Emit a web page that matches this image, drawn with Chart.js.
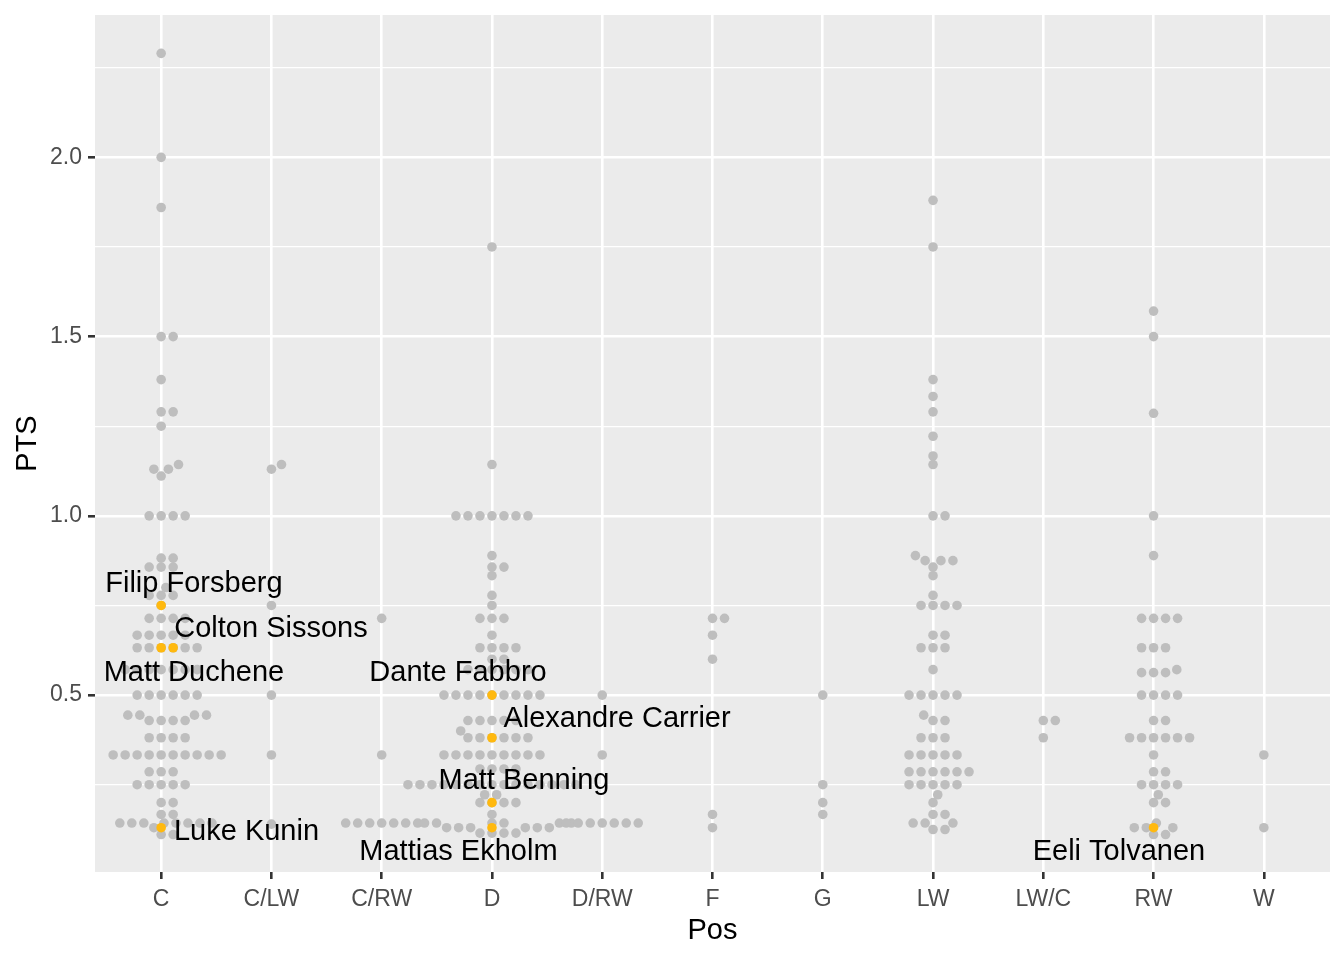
<!DOCTYPE html>
<html>
<head>
<meta charset="utf-8">
<script src="https://cdn.jsdelivr.net/npm/chart.js@4.4.1/dist/chart.umd.min.js"></script>
<style>
  html, body { margin: 0; padding: 0; background: #ffffff; }
</style>
</head>
<body>
<canvas id="ptsChart" width="1344" height="960"></canvas>
<script>
// positions on the x axis
const categories = ['C', 'C/LW', 'C/RW', 'D', 'D/RW', 'F', 'G', 'LW', 'LW/C', 'RW', 'W'];

// points per game, one array per position (every player, highlighted ones included)
const ptsC = [2.29, 2.0, 1.86, 1.5, 1.5, 1.38, 1.29, 1.29, 1.25, 1.143, 1.13, 1.13, 1.111,
  1.0, 1.0, 1.0, 1.0, 0.882, 0.882, 0.857, 0.857, 0.857, 0.8, 0.778, 0.778, 0.778,
  0.75, 0.714, 0.714, 0.714, 0.714, 0.667, 0.667, 0.667, 0.667, 0.667,
  0.632, 0.632, 0.632, 0.632, 0.632, 0.632,
  0.571, 0.571, 0.571, 0.571, 0.571, 0.571, 0.571,
  0.5, 0.5, 0.5, 0.5, 0.5, 0.5, 0.444, 0.444, 0.444, 0.444, 0.429, 0.429, 0.429, 0.429,
  0.381, 0.381, 0.381, 0.381,
  0.333, 0.333, 0.333, 0.333, 0.333, 0.333, 0.333, 0.333, 0.333, 0.333,
  0.286, 0.286, 0.286, 0.25, 0.25, 0.25, 0.25, 0.25, 0.2, 0.2, 0.167, 0.167,
  0.143, 0.143, 0.143, 0.143, 0.143, 0.143, 0.143, 0.143, 0.13, 0.111, 0.111];
const ptsCLW = [1.13, 1.143, 0.75, 0.5, 0.333, 0.14];
const ptsCRW = [0.714, 0.333, 0.143, 0.143, 0.143, 0.143, 0.143, 0.143, 0.143];
const ptsD = [1.75, 1.143, 1.0, 1.0, 1.0, 1.0, 1.0, 1.0, 1.0, 0.889, 0.857, 0.857, 0.833,
  0.778, 0.75, 0.714, 0.714, 0.714, 0.667, 0.632, 0.632, 0.632, 0.632, 0.6, 0.6,
  0.571, 0.571, 0.571, 0.571, 0.571, 0.571,
  0.5, 0.5, 0.5, 0.5, 0.5, 0.5, 0.5, 0.5, 0.5,
  0.429, 0.429, 0.429, 0.429, 0.429, 0.4, 0.381, 0.381, 0.381, 0.381, 0.381, 0.381,
  0.333, 0.333, 0.333, 0.333, 0.333, 0.333, 0.333, 0.333, 0.333,
  0.294, 0.294, 0.294, 0.294,
  0.25, 0.25, 0.25, 0.25, 0.25, 0.25, 0.25, 0.25, 0.25, 0.25, 0.25, 0.25, 0.25, 0.25, 0.25,
  0.222, 0.222, 0.2, 0.2, 0.2, 0.2, 0.167,
  0.143, 0.143, 0.143, 0.143, 0.143, 0.143,
  0.13, 0.13, 0.13, 0.13, 0.13, 0.13, 0.115, 0.115, 0.115, 0.115];
const ptsDRW = [0.5, 0.333, 0.143, 0.143, 0.143, 0.143, 0.143, 0.143, 0.143];
const ptsF = [0.714, 0.714, 0.667, 0.6, 0.167, 0.13];
const ptsG = [0.5, 0.25, 0.2, 0.167];
const ptsLW = [1.88, 1.75, 1.38, 1.333, 1.29, 1.222, 1.167, 1.143, 1.0, 1.0,
  0.889, 0.875, 0.875, 0.875, 0.857, 0.833, 0.778, 0.75, 0.75, 0.75, 0.75,
  0.667, 0.667, 0.632, 0.632, 0.632, 0.571, 0.5, 0.5, 0.5, 0.5, 0.5,
  0.444, 0.429, 0.429, 0.381, 0.381, 0.381, 0.333, 0.333, 0.333, 0.333, 0.333,
  0.286, 0.286, 0.286, 0.286, 0.286, 0.286, 0.25, 0.25, 0.25, 0.25, 0.25,
  0.222, 0.2, 0.167, 0.167, 0.143, 0.143, 0.143, 0.125, 0.125];
const ptsLWC = [0.429, 0.429, 0.381];
const ptsRW = [1.571, 1.5, 1.286, 1.0, 0.889, 0.714, 0.714, 0.714, 0.714,
  0.632, 0.632, 0.632, 0.571, 0.5625, 0.5625, 0.5625, 0.5, 0.5, 0.5, 0.5,
  0.429, 0.429, 0.381, 0.381, 0.381, 0.381, 0.381, 0.381, 0.333, 0.286, 0.286,
  0.25, 0.25, 0.25, 0.25, 0.222, 0.2, 0.2, 0.143, 0.13, 0.13, 0.13, 0.111, 0.111];
const ptsW = [0.333, 0.13];
const ptsByPos = [ptsC, ptsCLW, ptsCRW, ptsD, ptsDRW, ptsF, ptsG, ptsLW, ptsLWC, ptsRW, ptsW];

// highlighted players
const hiNames = ['Filip Forsberg', 'Matt Duchene', 'Colton Sissons', 'Luke Kunin',
  'Dante Fabbro', 'Alexandre Carrier', 'Matt Benning', 'Mattias Ekholm', 'Eeli Tolvanen'];
const hiPos = ['C', 'C', 'C', 'C', 'D', 'D', 'D', 'D', 'RW'];
const hiPts = [0.75, 0.632, 0.632, 0.13, 0.5, 0.381, 0.2, 0.13, 0.13];

const yMajor = [0.5, 1.0, 1.5, 2.0];
const yMinor = [0.25, 0.75, 1.25, 1.75, 2.25];

// where the repelled name labels sit (x in category units, y in PTS)
const labelX = [0.297, 0.297, 0.996, 0.774, 2.692, 4.134, 3.29, 2.696, 8.686];
const labelY = [0.811, 0.561, 0.684, 0.118, 0.561, 0.433, 0.26, 0.062, 0.062];

const FONT = '"Liberation Sans", Arial, sans-serif';
Chart.defaults.font.family = FONT;

// beeswarm: lowest values first, each point goes to the free spot nearest the centre
function swarm(values, pxX, pxY) {
  const d = 12;
  const k = 1.4;
  const order = values.map((v, i) => i).sort((a, b) => values[a] - values[b]);
  const placed = [];
  const out = new Array(values.length);
  order.forEach(i => {
    const y = values[i] * pxY * k;
    const cands = [0];
    placed.forEach(p => {
      const dy = y - p.y;
      if (Math.abs(dy) < d) {
        const dx = Math.sqrt(d * d - dy * dy);
        cands.push(p.x + dx, p.x - dx);
      }
    });
    let best = null;
    cands.forEach(c => {
      const ok = placed.every(p => (c - p.x) ** 2 + (y - p.y) ** 2 >= d * d - 1e-6);
      if (!ok) return;
      if (best === null || Math.abs(c) < Math.abs(best) - 1e-9 ||
          (Math.abs(Math.abs(c) - Math.abs(best)) < 1e-9 && c > best)) {
        best = c;
      }
    });
    placed.push({ x: best, y: y });
    out[i] = best / pxX;
  });
  return out;
}

function buildPoints(pxX, pxY) {
  const gray = [];
  ptsByPos.forEach((vals, ci) => {
    const off = swarm(vals, pxX, pxY);
    vals.forEach((v, j) => gray.push({ x: ci + off[j], y: v }));
  });
  const hi = [];
  categories.forEach((cat, ci) => {
    const idx = hiPos.map((p, i) => (p === cat ? i : -1)).filter(i => i >= 0);
    if (!idx.length) return;
    const vals = idx.map(i => hiPts[i]);
    const off = swarm(vals, pxX, pxY);
    vals.forEach((v, j) => hi.push({ x: ci + off[j], y: v }));
  });
  return { gray, hi };
}

const panelBg = {
  id: 'panelBg',
  beforeDraw(chart) {
    const { ctx, chartArea: a } = chart;
    ctx.save();
    ctx.fillStyle = '#FFFFFF';
    ctx.fillRect(0, 0, chart.width, chart.height);
    ctx.fillStyle = '#EBEBEB';
    ctx.fillRect(a.left, a.top, a.right - a.left, a.bottom - a.top);
    ctx.restore();
  }
};

const nameLabels = {
  id: 'nameLabels',
  afterDatasetsDraw(chart) {
    const { ctx, scales: { x, y } } = chart;
    ctx.save();
    ctx.font = '29px ' + FONT;
    ctx.fillStyle = '#000000';
    ctx.textAlign = 'center';
    ctx.textBaseline = 'middle';
    hiNames.forEach((n, i) => {
      ctx.fillText(n, x.getPixelForValue(labelX[i]), y.getPixelForValue(labelY[i]));
    });
    ctx.restore();
  }
};

const isMajor = c => c.tick && yMajor.includes(c.tick.value);

const chart = new Chart(document.getElementById('ptsChart'), {
  type: 'scatter',
  data: {
    datasets: [
      { data: [], order: 2, backgroundColor: '#BEBEBE', pointRadius: 4.8, borderWidth: 0, pointHoverRadius: 4.8 },
      { data: [], order: 1, backgroundColor: '#FFB90F', pointRadius: 4.8, borderWidth: 0, pointHoverRadius: 4.8 }
    ]
  },
  options: {
    responsive: false,
    animation: false,
    devicePixelRatio: 1,
    events: [],
    layout: { padding: { top: 15, right: 14, left: 0, bottom: 0 } },
    plugins: {
      legend: { display: false },
      tooltip: { enabled: false }
    },
    scales: {
      x: {
        type: 'linear',
        min: -0.6,
        max: 10.6,
        afterBuildTicks: s => { s.ticks = categories.map((c, i) => ({ value: i })); },
        afterFit: s => { s.height = 88; s.paddingLeft = 0; s.paddingRight = 0; },
        ticks: {
          callback: v => categories[v],
          color: '#4D4D4D',
          font: { size: 23 },
          padding: 7,
          autoSkip: false,
          maxRotation: 0
        },
        grid: { color: '#FFFFFF', lineWidth: 2.6, tickColor: '#333333', tickLength: 7, tickWidth: 2.6 },
        border: { display: false },
        title: { display: true, text: 'Pos', color: '#000000', font: { size: 29 }, padding: { top: 0, bottom: 12 } }
      },
      y: {
        type: 'linear',
        min: 0.0065,
        max: 2.397,
        afterBuildTicks: s => {
          s.ticks = yMinor.concat(yMajor).sort((a, b) => a - b).map(v => ({ value: v }));
        },
        afterFit: s => { s.width = 95; s.paddingTop = 0; s.paddingBottom = 0; },
        ticks: {
          callback: v => (yMajor.includes(v) ? v.toFixed(1) : ''),
          color: '#4D4D4D',
          font: { size: 23 },
          padding: 6,
          autoSkip: false
        },
        grid: {
          color: '#FFFFFF',
          lineWidth: c => (isMajor(c) ? 2.6 : 1.3),
          tickColor: c => (isMajor(c) ? '#333333' : 'rgba(0,0,0,0)'),
          tickLength: 7,
          tickWidth: 2.6
        },
        border: { display: false },
        title: { display: true, text: 'PTS', color: '#000000', font: { size: 29 }, padding: { top: 11, bottom: 0 } }
      }
    }
  },
  plugins: [panelBg, nameLabels]
});

// lay out the swarm with the real pixel scale, then redraw
const sx = chart.scales.x;
const sy = chart.scales.y;
const pts = buildPoints(sx.getPixelForValue(1) - sx.getPixelForValue(0),
  sy.getPixelForValue(0) - sy.getPixelForValue(1));
chart.data.datasets[0].data = pts.gray;
chart.data.datasets[1].data = pts.hi;
chart.update('none');
</script>
</body>
</html>
